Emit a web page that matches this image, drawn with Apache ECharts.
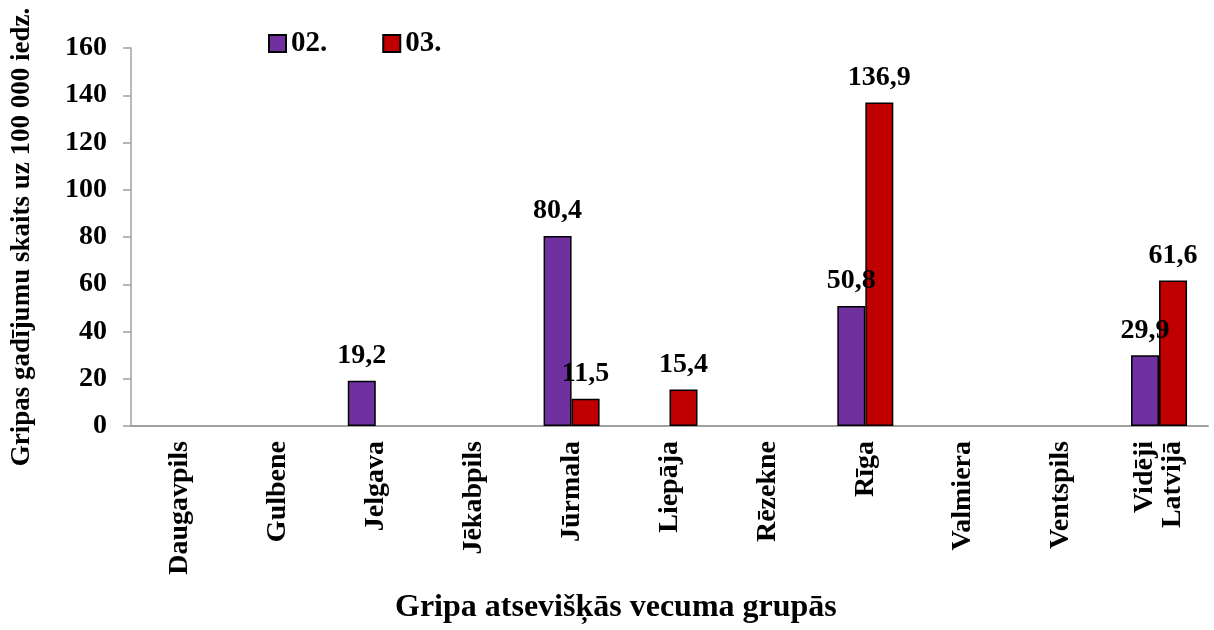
<!DOCTYPE html>
<html>
<head>
<meta charset="utf-8">
<script src="https://cdn.jsdelivr.net/npm/echarts@6/dist/echarts.min.js"></script>
<style>
  html, body { margin: 0; padding: 0; background: #fff; }
  #chart { width: 1214px; height: 630px; }
</style>
</head>
<body>
<div id="chart"></div>
<script>
var categories = ['Daugavpils', 'Gulbene', 'Jelgava', 'Jēkabpils', 'Jūrmala', 'Liepāja',
    'Rēzekne', 'Rīga', 'Valmiera', 'Ventspils', 'Vidēji\nLatvijā'];
var feb = [null, null, 19.2, null, 80.4, null, null, 50.8, null, null, 29.9];
var mar = [null, null, null, null, 11.5, 15.4, null, 136.9, null, null, 61.6];
var yTicks = [0, 20, 40, 60, 80, 100, 120, 140, 160];

var font = "'Liberation Serif', 'Times New Roman', serif";

function getChart(id) {
    return echarts.init(document.getElementById(id));
}

var chart = getChart('chart');

function labelFmt(p) {
    return String(p.value).replace('.', ',');
}

var option = {
    backgroundColor: '#fff',
    animation: false,
    textStyle: { fontFamily: font },
    title: {
        text: 'Gripa atsevišķās vecuma grupās',
        left: 390,
        top: 587,
        textStyle: { fontFamily: font, fontSize: 32, fontWeight: 'bold', color: '#000' }
    },
    legend: {
        left: 263,
        top: 24,
        itemWidth: 17,
        itemHeight: 17,
        itemGap: 55,
        icon: 'rect',
        data: ['02.', '03.'],
        textStyle: { fontFamily: font, fontSize: 29, fontWeight: 'bold', color: '#000' }
    },
    grid: { left: 131, right: 6, top: 48, bottom: 204 },
    xAxis: {
        type: 'category',
        data: categories,
        axisLine: { lineStyle: { color: '#a0a0a0', width: 2 } },
        axisTick: { show: false },
        axisLabel: {
            rotate: 90,
            interval: 0,
            margin: 15,
            fontFamily: font,
            fontSize: 28,
            fontWeight: 'bold',
            color: '#000',
            lineHeight: 28
        }
    },
    yAxis: {
        type: 'value',
        min: yTicks[0],
        max: yTicks[yTicks.length - 1],
        interval: 20,
        name: 'Gripas gadījumu skaits uz 100 000 iedz.',
        nameLocation: 'middle',
        nameGap: 95,
        nameTextStyle: { fontFamily: font, fontSize: 27, fontWeight: 'bold', color: '#000' },
        axisLine: { show: true, lineStyle: { color: '#a0a0a0', width: 1.5 } },
        axisTick: { show: true, length: 8, lineStyle: { color: '#a0a0a0', width: 1.5 } },
        splitLine: { show: false },
        axisLabel: {
            margin: 24,
            fontFamily: font,
            fontSize: 28,
            fontWeight: 'bold',
            color: '#000'
        }
    },
    series: [{
        name: '02.',
        type: 'bar',
        data: feb,
        barWidth: 28,
        barGap: '0%',
        itemStyle: { color: '#7030A0', borderColor: '#000', borderWidth: 1.5 },
        label: {
            show: true,
            position: 'top',
            distance: 11,
            formatter: labelFmt,
            fontFamily: font,
            fontSize: 28,
            fontWeight: 'bold',
            color: '#000'
        }
    }, {
        name: '03.',
        type: 'bar',
        data: mar,
        barWidth: 28,
        barGap: '0%',
        itemStyle: { color: '#C00000', borderColor: '#000', borderWidth: 1.5 },
        label: {
            show: true,
            position: 'top',
            distance: 11,
            formatter: labelFmt,
            fontFamily: font,
            fontSize: 28,
            fontWeight: 'bold',
            color: '#000'
        }
    }]
};

chart.setOption(option, true);
window.addEventListener('resize', function () {
    chart.resize();
});
</script>
</body>
</html>
